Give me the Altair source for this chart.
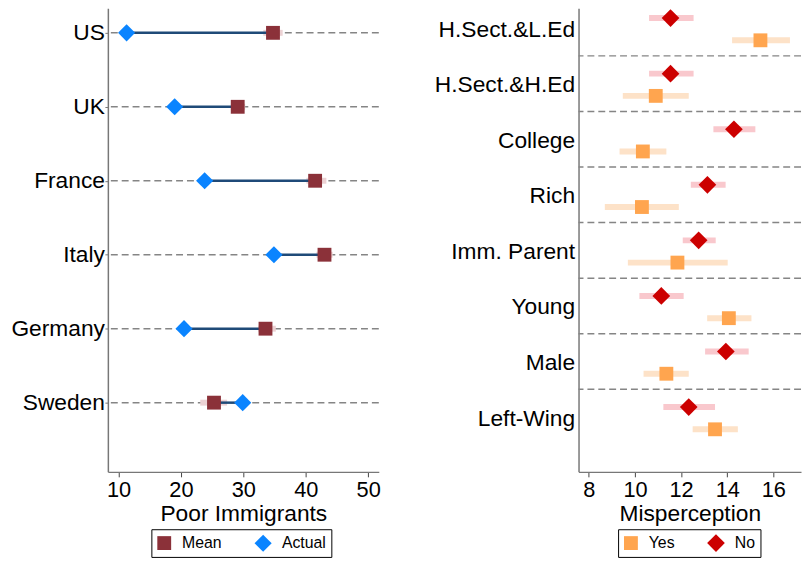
import altair as alt
import pandas as pd

# ---------------- data: left panel ----------------
countries = ["US", "UK", "France", "Italy", "Germany", "Sweden"]
actual = [11.3, 19.0, 23.8, 34.9, 20.5, 29.9]
mean = [34.75, 29.1, 41.5, 43.0, 33.55, 25.3]
mean_lo = [33.2, 28.0, 40.1, 41.7, 32.4, 23.1]
mean_hi = [36.3, 30.3, 43.3, 44.3, 35.2, 27.4]

# ---------------- data: right panel ----------------
groups = ["H.Sect.&L.Ed", "H.Sect.&H.Ed", "College", "Rich",
          "Imm. Parent", "Young", "Male", "Left-Wing"]
yes_val = [15.44, 10.9, 10.34, 10.3, 11.84, 14.07, 11.36, 13.47]
yes_lo = [14.21, 9.47, 9.33, 8.69, 9.69, 13.13, 10.37, 12.5]
yes_hi = [16.72, 12.33, 11.36, 11.9, 14.02, 15.05, 12.33, 14.46]
no_val = [11.54, 11.54, 14.29, 13.14, 12.76, 11.14, 13.94, 12.33]
no_lo = [10.61, 10.61, 13.4, 12.42, 12.07, 10.19, 13.04, 11.23]
no_hi = [12.54, 12.54, 15.22, 13.93, 13.5, 12.11, 14.93, 13.47]

FONT = "Liberation Sans"
GRID_GRAY = "#858585"
AXIS_GRAY = "#777777"
LABEL_FS = 23
TICK_FS = 22
TITLE_FS = 23
LEG_Y = 527
PLOT_H = 469

# ---------------- left chart ----------------
left_df = pd.DataFrame({
    "country": countries,
    "pos": list(range(1, len(countries) + 1)),
    "actual": actual,
    "mean": mean,
    "lo": mean_lo,
    "hi": mean_hi,
})
left_pts = pd.concat([
    pd.DataFrame({"pos": left_df["pos"], "value": mean, "Series": "Mean"}),
    pd.DataFrame({"pos": left_df["pos"], "value": actual, "Series": "Actual"}),
])

lx = alt.Scale(domain=[8.3, 51.7], nice=False, zero=False)
ly = alt.Scale(domain=[0.666, 6.936], nice=False, zero=False, reverse=True)
left_label_expr = "[" + ",".join("'%s'" % c for c in countries) + "][datum.value - 1]"

left_y_axis = alt.Axis(values=list(range(1, len(countries) + 1)), labelExpr=left_label_expr,
                       title=None, grid=False, tickSize=3, labelPadding=0.5,
                       labelFontSize=LABEL_FS, labelFont=FONT, labelColor="black",
                       domainColor=AXIS_GRAY, tickColor=AXIS_GRAY, domainWidth=1.5)
left_x_axis = alt.Axis(values=[10, 20, 30, 40, 50], title="Poor Immigrants", grid=False,
                       tickSize=5, labelPadding=3, labelFontSize=TICK_FS, labelFont=FONT,
                       labelColor="black", titleFontSize=TITLE_FS, titleFont=FONT,
                       titleFontWeight="normal", titleColor="black", titlePadding=2,
                       domainColor=AXIS_GRAY, tickColor="#444444", domainWidth=1.5)

l_base = alt.Chart(left_df)
l_grid = l_base.mark_rule(strokeDash=[7, 4], color=GRID_GRAY, strokeWidth=1.5).encode(
    y=alt.Y("pos:Q", scale=ly, axis=left_y_axis))
l_ci = l_base.mark_rule(strokeWidth=6, color="#ecd2d4").encode(
    x=alt.X("lo:Q", scale=lx, axis=left_x_axis), x2="hi:Q", y=alt.Y("pos:Q", scale=ly))
l_line = l_base.mark_rule(strokeWidth=2.5, color="#1f4a78").encode(
    x=alt.X("actual:Q", scale=lx), x2="mean:Q", y=alt.Y("pos:Q", scale=ly))
leg_l = alt.Legend(title=None, orient="none", legendX=44, legendY=LEG_Y, direction="horizontal")
l_pts = alt.Chart(left_pts).mark_point(filled=True, opacity=1, strokeWidth=0).encode(
    x=alt.X("value:Q", scale=lx),
    y=alt.Y("pos:Q", scale=ly),
    color=alt.Color("Series:N", scale=alt.Scale(domain=["Mean", "Actual"], range=["#8b3139", "#0a84ff"]),
                    legend=leg_l),
    shape=alt.Shape("Series:N", scale=alt.Scale(domain=["Mean", "Actual"], range=["square", "diamond"]),
                    legend=leg_l),
    size=alt.Size("Series:N", scale=alt.Scale(domain=["Mean", "Actual"], range=[196, 300]),
                  legend=leg_l),
)
left = alt.layer(l_grid, l_ci, l_line, l_pts).properties(width=274, height=PLOT_H)

# ---------------- right chart ----------------
n = len(groups)
right_pts = pd.concat([
    pd.DataFrame({"group": groups, "ypos": [i + 1 + 0.2 for i in range(n)], "value": yes_val,
                  "lo": yes_lo, "hi": yes_hi, "Answer": "Yes"}),
    pd.DataFrame({"group": groups, "ypos": [i + 1 - 0.2 for i in range(n)], "value": no_val,
                  "lo": no_lo, "hi": no_hi, "Answer": "No"}),
])
sep_df = pd.DataFrame({"sep": [i + 1 + 0.48 for i in range(n - 1)]})

rx = alt.Scale(domain=[7.55, 17.2], nice=False, zero=False)
ry = alt.Scale(domain=[0.621, 8.966], nice=False, zero=False, reverse=True)
right_label_expr = "[" + ",".join("'%s'" % g for g in groups) + "][datum.value - 1]"

right_y_axis = alt.Axis(values=list(range(1, n + 1)), labelExpr=right_label_expr,
                        title=None, grid=False, ticks=False, labelPadding=4,
                        labelFontSize=LABEL_FS, labelFont=FONT, labelColor="black",
                        domainColor=AXIS_GRAY, domainWidth=1.5)
right_x_axis = alt.Axis(values=[8, 10, 12, 14, 16], title="Misperception", grid=False,
                        tickSize=5, labelPadding=3, labelFontSize=TICK_FS, labelFont=FONT,
                        labelColor="black", titleFontSize=TITLE_FS, titleFont=FONT,
                        titleFontWeight="normal", titleColor="black", titlePadding=2,
                        domainColor=AXIS_GRAY, tickColor="#444444", domainWidth=1.5)

r_sep = alt.Chart(sep_df).mark_rule(strokeDash=[7, 4], color=GRID_GRAY, strokeWidth=1.5).encode(
    y=alt.Y("sep:Q", scale=ry, axis=right_y_axis))
r_ci = alt.Chart(right_pts).mark_rule(strokeWidth=6).encode(
    x=alt.X("lo:Q", scale=rx, axis=right_x_axis), x2="hi:Q",
    y=alt.Y("ypos:Q", scale=ry),
    color=alt.condition(alt.datum.Answer == "Yes", alt.value("#fde2c8"), alt.value("#f9c8cd")))
leg_r = alt.Legend(title=None, orient="none", legendX=40, legendY=LEG_Y, direction="horizontal")
r_pts = alt.Chart(right_pts).mark_point(filled=True, opacity=1, strokeWidth=0).encode(
    x=alt.X("value:Q", scale=rx),
    y=alt.Y("ypos:Q", scale=ry),
    color=alt.Color("Answer:N", scale=alt.Scale(domain=["Yes", "No"], range=["#ffa54f", "#cc0000"]),
                    legend=leg_r),
    shape=alt.Shape("Answer:N", scale=alt.Scale(domain=["Yes", "No"], range=["square", "diamond"]),
                    legend=leg_r),
    size=alt.Size("Answer:N", scale=alt.Scale(domain=["Yes", "No"], range=[196, 320]),
                  legend=leg_r),
)
right = alt.layer(r_sep, r_ci, r_pts).properties(width=225, height=PLOT_H)

chart = alt.hconcat(left, right, spacing=54).resolve_scale(
    x="independent", y="independent", color="independent", shape="independent", size="independent"
).resolve_legend(color="independent", shape="independent", size="independent").properties(
    padding={"left": 2, "top": -3, "right": 0, "bottom": 0}
).configure_view(stroke=None).configure_legend(
    strokeColor="black", strokeWidth=1, padding=5, labelFontSize=16, labelFont=FONT,
    labelColor="black", labelOffset=10, columnPadding=32, symbolStrokeWidth=0,
    symbolOpacity=1, fillColor="white", cornerRadius=0
)

chart.save("out.html", embed_options={"renderer": "svg", "actions": False})
